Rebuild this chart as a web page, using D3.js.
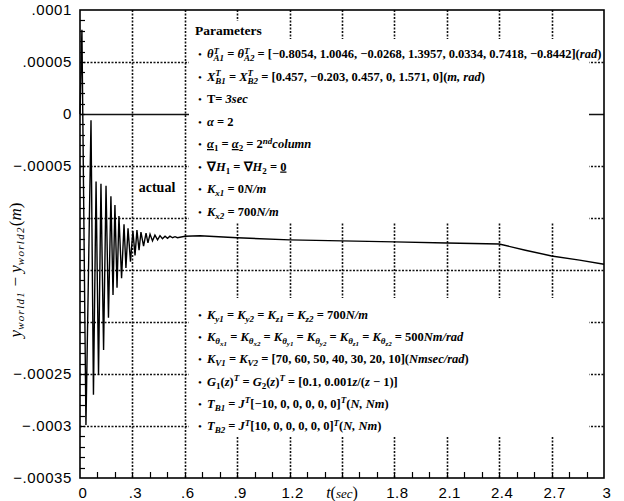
<!DOCTYPE html>
<html>
<head>
<meta charset="utf-8">
<script src="https://cdn.jsdelivr.net/npm/d3@7/dist/d3.min.js"></script>
<style>
  body { margin: 0; background: #fff; }
  text { white-space: pre; }
</style>
</head>
<body>
<div id="chart"></div>
<script>
/*
   --- data (peaks and troughs of the response)
*/
var timeSec = [0, 0.011, 0.034, 0.063, 0.077, 0.092, 0.106, 0.120, 0.135, 0.149,
  0.163, 0.177, 0.189, 0.200, 0.212, 0.223, 0.238, 0.252, 0.263, 0.275,
  0.289, 0.303, 0.315, 0.326, 0.338, 0.349, 0.364, 0.378, 0.389, 0.401,
  0.415, 0.429, 0.444, 0.458, 0.472, 0.487, 0.501, 0.515, 0.530, 0.544,
  0.558, 0.601, 0.687, 0.9, 1.2, 1.5, 1.8, 2.1, 2.4, 2.55, 2.7, 2.86, 3.0];
var yDiff = [0, 8.1e-5, -29.9e-5, -0.6e-5, -27.0e-5, -6.5e-5, -25.1e-5, -6.7e-5, -22.7e-5, -6.9e-5,
  -19.6e-5, -7.9e-5, -17.4e-5, -8.75e-5, -16.7e-5, -9.8e-5, -15.8e-5, -10.6e-5, -14.8e-5, -11.0e-5,
  -14.2e-5, -11.25e-5, -13.6e-5, -11.15e-5, -13.1e-5, -11.35e-5, -12.7e-5, -11.45e-5, -12.4e-5, -11.55e-5,
  -12.2e-5, -11.65e-5, -12.1e-5, -11.7e-5, -12.0e-5, -11.75e-5, -11.95e-5, -11.75e-5, -11.9e-5, -11.8e-5,
  -11.9e-5, -11.75e-5, -11.7e-5, -11.9e-5, -12.1e-5, -12.2e-5, -12.3e-5, -12.4e-5, -12.5e-5, -13.1e-5,
  -13.65e-5, -14.05e-5, -14.45e-5];

var xTicks = [0, 0.3, 0.6, 0.9, 1.2, 1.5, 1.8, 2.1, 2.4, 2.7, 3];
var xTickLabels = ["0", ".3", ".6", ".9", "1.2", "", "1.8", "2.1", "2.4", "2.7", "3"];
var yTicks = [0.0001, 0.00005, 0, -0.00005, -0.0001, -0.00015, -0.0002, -0.00025, -0.0003, -0.00035];
var yTickLabels = [".0001", ".00005", "0", "\u2212.00005", "", "", "", "\u2212.00025", "\u2212.0003", "\u2212.00035"];

// legend lines: [text, mode]  i=italic, ^=sup, _=sub, ==subsub, <=stack under previous, u=underline
var paramsUpper = [
  [["\u03b8","i"],["T","i^"],["A1","i_<"],[" = "],["\u03b8","i"],["T","i^"],["A2","i_<"],
   [" = [\u22120.8054, 1.0046, \u22120.0268, 1.3957, 0.0334, 0.7418, \u22120.8442]("],["rad","i"],[")"]],
  [["X","i"],["T","i^"],["B1","i_<"],[" = "],["X","i"],["T","i^"],["B2","i_<"],
   [" = [0.457, \u22120.203, 0.457, 0, 1.571, 0]("],["m, rad","i"],[")"]],
  [["T= "],["3sec","i"]],
  [["\u03b1","i"],[" = 2"]],
  [["\u03b1","iu"],["1","_"],[" = "],["\u03b1","iu"],["2","_"],[" = 2"],["nd","i^"],["column","i"]],
  [["\u2207"],["H","i"],["1","_"],[" = \u2207"],["H","i"],["2","_"],[" = "],["0","u"]],
  [["K","i"],["x1","i_"],[" = 0"],["N/m","i"]],
  [["K","i"],["x2","i_"],[" = 700"],["N/m","i"]]
];
var paramsLower = [
  [["K","i"],["y1","i_"],[" = "],["K","i"],["y2","i_"],[" = "],["K","i"],["z1","i_"],[" = "],
   ["K","i"],["z2","i_"],[" = 700"],["N/m","i"]],
  [["K","i"],["\u03b8","i_"],["x1","i="],[" = "],["K","i"],["\u03b8","i_"],["x2","i="],[" = "],
   ["K","i"],["\u03b8","i_"],["y1","i="],[" = "],["K","i"],["\u03b8","i_"],["y2","i="],[" = "],
   ["K","i"],["\u03b8","i_"],["z1","i="],[" = "],["K","i"],["\u03b8","i_"],["z2","i="],[" = 500"],["Nm/rad","i"]],
  [["K","i"],["V1","i_"],[" = "],["K","i"],["V2","i_"],[" = [70, 60, 50, 40, 30, 20, 10]("],["Nmsec/rad","i"],[")"]],
  [["G","i"],["1","_"],["("],["z","i"],[")"],["T","i^"],[" = "],["G","i"],["2","_"],["("],["z","i"],[")"],["T","i^"],
   [" = [0.1, 0.001"],["z","i"],["/("],["z","i"],[" \u2212 1)]"]],
  [["T","i"],["B1","i_"],[" = "],["J","i"],["T","i^"],["[\u221210, 0, 0, 0, 0, 0]"],["T","i^"],["("],["N, Nm","i"],[")"]],
  [["T","i"],["B2","i_"],[" = "],["J","i"],["T","i^"],["[10, 0, 0, 0, 0, 0]"],["T","i^"],["("],["N, Nm","i"],[")"]]
];

/*
   --- drawing
*/
var width = 624, height = 501;
var serif = "'Liberation Serif', 'Times New Roman', serif";
var sans = "'Liberation Sans', Arial, sans-serif";

var svg = d3.select('#chart').append('svg')
  .attr('width', width)
  .attr('height', height);

var x = d3.scaleLinear().domain([0, 3]).range([80, 604]);
var y = d3.scaleLinear().domain([-0.00035, 0.0001]).range([478, 10]);
//snap to pixel centres so the dotted lines stay crisp
var px = function(v) { return Math.round(v) + 0.5; };

//grid: dotted, the zero line solid
var grid = svg.append('g').attr('stroke', '#111');

grid.selectAll('line.v')
  .data(xTicks.slice(1, -1))
  .enter().append('line')
  .attr('class', 'v')
  .attr('x1', function(d) { return px(x(d)); })
  .attr('x2', function(d) { return px(x(d)); })
  .attr('y1', y(0.0001)).attr('y2', y(-0.00035))
  .attr('stroke-width', 1.6)
  .style('stroke-dasharray', '2, 1.5');

grid.selectAll('line.h')
  .data(yTicks.slice(1, -1))
  .enter().append('line')
  .attr('class', 'h')
  .attr('x1', x(0)).attr('x2', x(3))
  .attr('y1', function(d) { return px(y(d)); })
  .attr('y2', function(d) { return px(y(d)); })
  .attr('stroke-width', 1.6)
  .style('stroke-dasharray', function(d) { return d === 0 ? 'none' : '2, 1.5'; });

//the response curve
var line = d3.line()
  .x(function(d) { return x(d[0]); })
  .y(function(d) { return y(d[1]); });

svg.append('path')
  .datum(d3.zip(timeSec, yDiff))
  .attr('d', line)
  .attr('fill', 'none')
  .attr('stroke', '#000')
  .attr('stroke-width', 1.4)
  .attr('stroke-linejoin', 'miter');

//white panels behind the parameter text
var panels = [[189, 21, 75, 19], [189, 39, 400, 183], [189, 298, 400, 138]];
svg.selectAll('rect.panel')
  .data(panels)
  .enter().append('rect')
  .attr('class', 'panel')
  .attr('x', function(d) { return d[0]; })
  .attr('y', function(d) { return d[1]; })
  .attr('width', function(d) { return d[2]; })
  .attr('height', function(d) { return d[3]; })
  .attr('fill', '#fff');

//frame and minor ticks
svg.append('rect')
  .attr('x', x(0)).attr('y', y(0.0001))
  .attr('width', x(3) - x(0)).attr('height', y(-0.00035) - y(0.0001))
  .attr('fill', 'none').attr('stroke', '#000').attr('stroke-width', 1.6);

svg.selectAll('line.xminor')
  .data(d3.range(1, 30))
  .enter().append('line')
  .attr('class', 'xminor')
  .attr('x1', function(d) { return px(x(d / 10)); })
  .attr('x2', function(d) { return px(x(d / 10)); })
  .attr('y1', y(-0.00035)).attr('y2', y(-0.00035) - 6)
  .attr('stroke', '#000').attr('stroke-width', 1.2);

svg.selectAll('line.yminor')
  .data(d3.range(-34, 10))
  .enter().append('line')
  .attr('class', 'yminor')
  .attr('x1', x(0)).attr('x2', x(0) + 5)
  .attr('y1', function(d) { return px(y(d * 1e-5)); })
  .attr('y2', function(d) { return px(y(d * 1e-5)); })
  .attr('stroke', '#000').attr('stroke-width', 1.2);

//tick labels
svg.selectAll('text.xlab')
  .data(xTicks)
  .enter().append('text')
  .attr('class', 'xlab')
  .attr('x', function(d) { return x(d) + 3; })
  .attr('y', 498)
  .attr('text-anchor', 'middle')
  .attr('font-family', sans).attr('font-size', 15)
  .attr('letter-spacing', 0.5)
  .text(function(d, i) { return xTickLabels[i]; });

svg.selectAll('text.ylab')
  .data(yTicks)
  .enter().append('text')
  .attr('class', 'ylab')
  .attr('x', 72)
  .attr('y', function(d) { return y(d); })
  .attr('dy', '0.35em')
  .attr('text-anchor', 'end')
  .attr('font-family', sans).attr('font-size', 15)
  .attr('letter-spacing', 0.6)
  .text(function(d, i) { return yTickLabels[i]; });

//axis titles
var xt = svg.append('text')
  .attr('x', x(1.5)).attr('y', 498)
  .attr('text-anchor', 'middle')
  .attr('font-family', serif).attr('font-size', 16);
xt.append('tspan').attr('font-style', 'italic').text('t');
xt.append('tspan').text('(');
xt.append('tspan').attr('font-style', 'italic').attr('font-size', 13).text('sec');
xt.append('tspan').text(')');

var yt = svg.append('text')
  .attr('transform', 'translate(21,270) rotate(-90)')
  .attr('text-anchor', 'middle')
  .attr('font-family', serif).attr('font-size', 17);
yt.append('tspan').attr('font-style', 'italic').text('y');
yt.append('tspan').attr('font-style', 'italic').attr('font-size', 11).attr('dy', 3).attr('letter-spacing', 1.3).text('world1');
yt.append('tspan').attr('dy', -3).text(' \u2212 ');
yt.append('tspan').attr('font-style', 'italic').text('y');
yt.append('tspan').attr('font-style', 'italic').attr('font-size', 11).attr('dy', 3).attr('letter-spacing', 1.3).text('world2');
yt.append('tspan').attr('dy', -3).text('(');
yt.append('tspan').attr('font-style', 'italic').text('m');
yt.append('tspan').text(')');

svg.append('text')
  .attr('x', 157).attr('y', 192)
  .attr('text-anchor', 'middle')
  .attr('font-family', serif).attr('font-weight', 'bold').attr('font-size', 14)
  .text('actual');

//parameter text
var fs = 12.5;
var mathLine = function(lx, ly, segs) {
  var t = svg.append('text').attr('x', lx).attr('y', ly)
    .attr('font-family', serif).attr('font-weight', 'bold').attr('font-size', fs);
  var cur = 0, prev = null;
  segs.forEach(function(s) {
    var m = s[1] || '';
    var off = 0, size = fs;
    if (m.indexOf('^') >= 0) { off = -4.5; size = 9; }
    if (m.indexOf('_') >= 0) { off = 3; size = 9; }
    if (m.indexOf('=') >= 0) { off = 5; size = 7; }
    var ts = t.append('tspan').attr('dy', off - cur).attr('font-size', size).text(s[0]);
    if (m.indexOf('i') >= 0) ts.attr('font-style', 'italic');
    if (m.indexOf('u') >= 0) ts.attr('text-decoration', 'underline');
    if (m.indexOf('<') >= 0 && prev) ts.attr('dx', -prev.node().getComputedTextLength());
    cur = off; prev = ts;
  });
};

svg.append('text')
  .attr('x', 195).attr('y', 35)
  .attr('font-family', serif).attr('font-weight', 'bold').attr('font-size', 13.5)
  .text('Parameters');

var bullet = function(ly) {
  svg.append('text').attr('x', 198).attr('y', ly)
    .attr('font-family', serif).attr('font-size', 11).text('\u2022');
};

paramsUpper.forEach(function(segs, i) {
  var ly = 58 + i * 22.5;
  bullet(ly);
  mathLine(207, ly, segs);
});
paramsLower.forEach(function(segs, i) {
  var ly = 319 + i * 22.2;
  bullet(ly);
  mathLine(207, ly, segs);
});
</script>
</body>
</html>
